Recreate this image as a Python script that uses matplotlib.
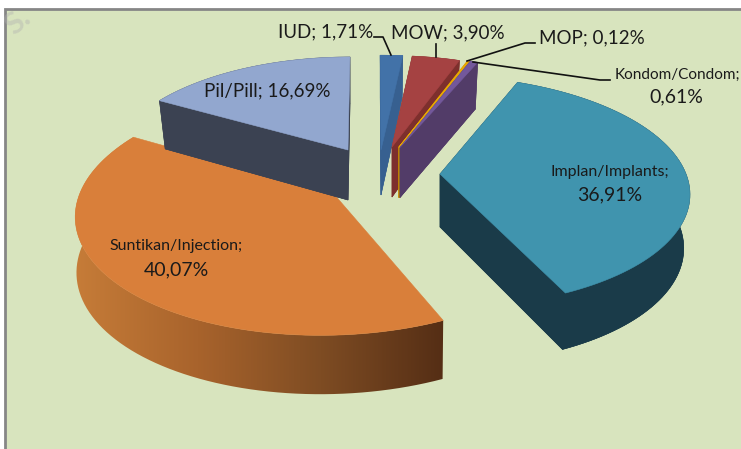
import numpy as np
import matplotlib
matplotlib.use('Agg')
import matplotlib.pyplot as plt
from matplotlib.patches import Polygon, Rectangle
from matplotlib.colors import LinearSegmentedColormap

plt.rcParams['font.family'] = ['Lato', 'DejaVu Sans']

#datos
nombres = ['Implan/Implants', 'Suntikan/Injection', 'Pil/Pill', 'IUD', 'MOW', 'MOP', 'Kondom/Condom']
valores = [36.91, 40.07, 16.69, 1.71, 3.90, 0.12, 0.61]
textos = ['36,91%', '40,07%', '16,69%', '1,71%', '3,90%', '0,12%', '0,61%']

#geometria de cada sector: vertice, radios, altura, sesgo y escala de la base
centros = [(440, 174), (333, 193), (348, 150), (381, 150), (392, 147), (399, 147.5), (400, 147.5)]
radios_x = [246, 253, 235, 242, 225, 230, 230]
radios_y = [113, 121, 107, 109, 105, 105, 105]
alturas = [53, 55, 50, 45, 50, 50, 50]
sesgos = [-0.06, 0.09, 0.03, 0, 0, 0, 0]
escalas = [0.975, 0.995, 0.97, 0.97, 0.97, 0.97, 0.97]
color_top = ['#4094AE', '#D97F3A', '#92A7CF', '#4272A8', '#A54242', '#E8A800', '#73589B']
color_lado = ['#1A3B49', '#8A5228', '#3B4252', '#376090', '#7D2F2D', '#C48A00', '#523C68']
P = 0.15
ANG0 = 67.4


def punto(c, a, b, h, r, t, s, e):
    # proyeccion en perspectiva de un punto del sector (h=0 cara superior)
    d = 1 + P * r * np.sin(t)
    x = a * r * np.cos(t) / d
    y = b * r * np.sin(t) / d
    esc = e if h > 0 else 1
    alto = h * (1 - 0.07 * r * np.sin(t))
    return c[0] + x * esc + s * y, c[1] - y + alto


fig = plt.figure(figsize=(7.41, 4.49), dpi=100, facecolor='white')
ax = fig.add_axes([0, 0, 1, 1])
ax.set_xlim(0, 741)
ax.set_ylim(449, 0)
ax.axis('off')

ax.add_patch(Rectangle((4.5, 8.5), 760, 460, fc='#D8E4BE', ec='#868686', lw=2, zorder=0))
ax.text(18, 21, 'S.', fontsize=22, fontweight='bold', color='#b0b0b0', alpha=0.4, rotation=40,
        ha='center', va='center', zorder=1)

#angulos a partir de los valores
total = sum(valores)
ini = ANG0
angulos = []
for v in valores:
    fin = ini - v / total * 360
    angulos.append((ini, fin))
    ini = fin

orden = [1, 0, 2, 3, 4, 5, 6]
z = 2
for i in orden:
    c = centros[i]
    a, b, h, s, e = radios_x[i], radios_y[i], alturas[i], sesgos[i], escalas[i]
    t = np.radians(np.linspace(angulos[i][0], angulos[i][1], 80))
    arriba = np.array(punto(c, a, b, 0, 1, t, s, e)).T
    abajo = np.array(punto(c, a, b, h, 1, t, s, e)).T
    ap_a = np.array(punto(c, a, b, 0, 0, 0.0, s, e))
    ap_b = np.array(punto(c, a, b, h, 0, 0.0, s, e))
    lw = 1.0 if i == 5 else 0.4
    if i == 1:
        # pared con degradado
        pared = Polygon(np.vstack([arriba, abajo[::-1]]), transform=ax.transData, fc='none', ec='none')
        ax.add_patch(pared)
        cm = LinearSegmentedColormap.from_list('nar', ['#C67C38', '#A8632C', '#7E4C23', '#552E15'])
        g = np.linspace(0, 1, 256).reshape(1, -1)
        im = ax.imshow(g, cmap=cm, extent=[75, 444, 449, 100], aspect='auto', zorder=z)
        im.set_clip_path(pared)
        ax.set_xlim(0, 741)
        ax.set_ylim(449, 0)
    else:
        cara1 = [ap_a, arriba[0], abajo[0], ap_b]
        cara2 = [ap_a, arriba[-1], abajo[-1], ap_b]
        for pts in [np.vstack([[ap_b], abajo]), np.vstack([arriba, abajo[::-1]]), cara1, cara2]:
            ax.add_patch(Polygon(pts, fc=color_lado[i], ec=color_lado[i], lw=lw, zorder=z))
    ax.add_patch(Polygon(np.vstack([[ap_a], arriba]), fc=color_top[i], ec=color_top[i], lw=lw, zorder=z + 0.5))
    z += 1

#lineas guia
guias = [([374, 383, 391], [37, 37, 55]),
         ([436, 436], [44, 57]),
         ([535, 525, 467], [43, 43, 61]),
         ([473, 600, 610], [62, 80, 80])]
for gx, gy in guias:
    ax.plot(gx, gy, color='#111111', lw=1.2, zorder=20)

#etiquetas
tc = '#1a1a1a'
ax.text(325.5, 32, nombres[3] + '; ' + textos[3], fontsize=13.5, color=tc, ha='center', va='center', zorder=21)
ax.text(447.5, 33, nombres[4] + '; ' + textos[4], fontsize=13.5, color=tc, ha='center', va='center', zorder=21)
ax.text(592, 38, nombres[5] + '; ' + textos[5], fontsize=13.5, color=tc, ha='center', va='center', zorder=21)
ax.text(677, 75, nombres[6] + ';', fontsize=11, color=tc, ha='center', va='center', zorder=21)
ax.text(676.5, 97, textos[6], fontsize=14, color=tc, ha='center', va='center', zorder=21)
ax.text(610, 172, nombres[0] + ';', fontsize=11.5, color=tc, ha='center', va='center', zorder=21)
ax.text(610, 195, textos[0], fontsize=14, color=tc, ha='center', va='center', zorder=21)
ax.text(267, 91, nombres[2] + '; ' + textos[2], fontsize=13.5, color=tc, ha='center', va='center', zorder=21)
ax.text(176, 246, nombres[1] + ';', fontsize=11.5, color=tc, ha='center', va='center', zorder=21)
ax.text(176, 270, textos[1], fontsize=14, color=tc, ha='center', va='center', zorder=21)

fig.savefig('out.png', dpi=100)
